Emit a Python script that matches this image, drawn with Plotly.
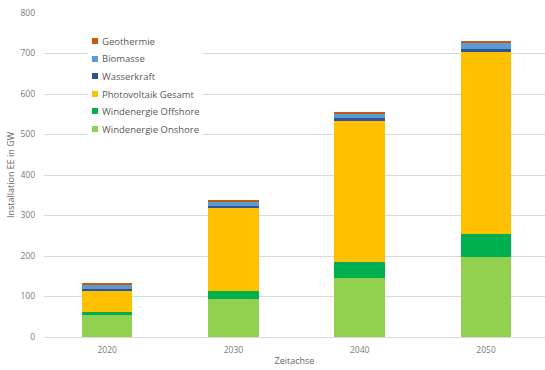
import plotly.graph_objects as go

years = ["2020", "2030", "2040", "2050"]
onshore = [54, 94, 145, 197]
offshore = [8, 20, 41, 57]
photovoltaik = [53, 206, 348, 450]
wasserkraft = [4, 4, 6, 6]
biomasse = [11, 11, 12, 17]
geothermie = [1, 1, 3, 3]

series = [
    ("Windenergie Onshore", onshore, "#92D050"),
    ("Windenergie Offshore", offshore, "#00B050"),
    ("Photovoltaik Gesamt", photovoltaik, "#FFC000"),
    ("Wasserkraft", wasserkraft, "#2F5597"),
    ("Biomasse", biomasse, "#5B9BD5"),
    ("Geothermie", geothermie, "#C55A11"),
]

fig = go.Figure()
for name, vals, col in series:
    fig.add_trace(go.Bar(x=years, y=vals, name=name, marker=dict(color=col, line=dict(width=0)),
                         width=0.4, showlegend=False))

# plot area in pixels (for placing the custom legend)
L, T, W, H = 44, 13, 501, 324
def px(x):
    return (x - L) / W
def py(y):
    return (T + H - y) / H

shapes = [dict(type="rect", xref="paper", yref="paper", layer="above",
               x0=px(88), x1=px(203), y0=py(138), y1=py(32),
               fillcolor="white", line=dict(width=0))]
annotations = []
legend_y = [129, 111, 94, 76, 59, 41]
for (name, vals, col), yy in zip(series, legend_y):
    shapes.append(dict(type="rect", xref="paper", yref="paper", layer="above",
                       x0=px(92), x1=px(98), y0=py(yy + 3), y1=py(yy - 3),
                       fillcolor=col, line=dict(width=0)))
    annotations.append(dict(xref="paper", yref="paper", x=px(100), y=py(yy),
                            xanchor="left", yanchor="middle", showarrow=False,
                            text=name, font=dict(size=9.5, color="#595959")))

tick_col = "#7a7a7a"
fig.update_layout(
    barmode="stack",
    width=545, height=370,
    margin=dict(l=L, r=0, t=T, b=370 - T - H),
    paper_bgcolor="white", plot_bgcolor="white",
    font=dict(family="Open Sans, Calibri, sans-serif", size=9, color=tick_col),
    showlegend=False,
    shapes=shapes,
    annotations=annotations,
    xaxis=dict(
        type="category", range=[-0.5, 3.467],
        showgrid=False, showline=False, ticks="",
        ticklabelstandoff=6,
        tickfont=dict(size=8.5, color=tick_col),
        title=dict(text="Zeitachse", font=dict(size=9, color="#666666"), standoff=4),
    ),
    yaxis=dict(
        range=[0, 800], dtick=100,
        showgrid=True, gridcolor="#D9D9D9", gridwidth=1,
        zeroline=True, zerolinecolor="#D9D9D9", zerolinewidth=1,
        showline=False, ticks="",
        ticklabelstandoff=8,
        tickfont=dict(size=8.5, color=tick_col),
        title=dict(text="Installation EE in GW", font=dict(size=9, color="#666666"), standoff=4),
    ),
)

fig.write_html("out.html")
